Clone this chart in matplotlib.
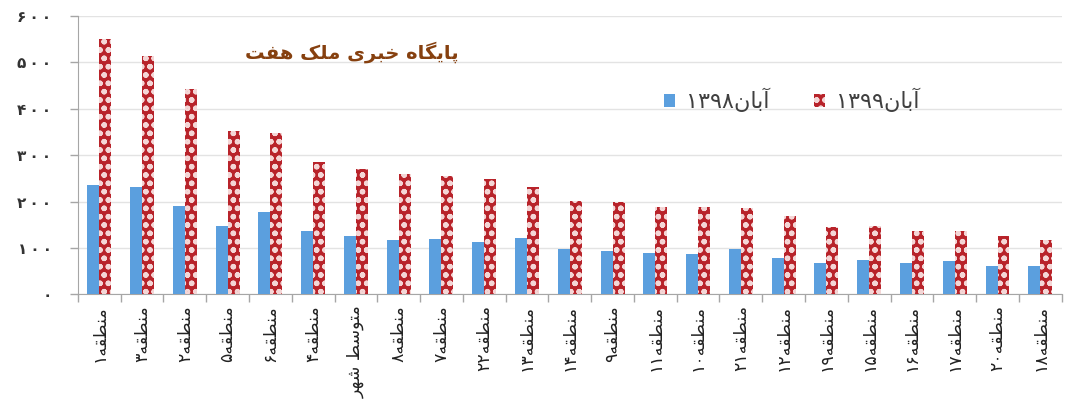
import numpy as np
import matplotlib
matplotlib.use("Agg")
import matplotlib.pyplot as plt

# data
regions = ["منطقه۱", "منطقه۳", "منطقه۲", "منطقه۵", "منطقه۶", "منطقه۴", "متوسط شهر",
           "منطقه۸", "منطقه۷", "منطقه۲۲", "منطقه۱۳", "منطقه۱۴", "منطقه۹", "منطقه۱۱",
           "منطقه۱۰", "منطقه۲۱", "منطقه۱۲", "منطقه۱۹", "منطقه۱۵", "منطقه۱۶", "منطقه۱۷",
           "منطقه۲۰", "منطقه۱۸"]
aban_1398 = [236, 231, 191, 148, 177, 137, 125, 118, 120, 113, 122, 98, 94, 89,
             87, 98, 79, 67, 73, 67, 71, 61, 60]
aban_1399 = [550, 513, 442, 353, 348, 285, 271, 259, 255, 248, 231, 201, 199, 188,
             188, 186, 168, 146, 147, 137, 137, 126, 117]
yticks = [0, 100, 200, 300, 400, 500, 600]
label_1398 = "آبان۱۳۹۸"
label_1399 = "آبان۱۳۹۹"
title = "پایگاه خبری ملک هفت"

# matplotlib has no arabic shaping, so do a small one by hand
# (isolated, final, initial, medial); two entries = right joining only
FORMS = {
    "ا": ("\uFE8D", "\uFE8E"), "آ": ("\uFE81", "\uFE82"),
    "ر": ("\uFEAD", "\uFEAE"), "و": ("\uFEED", "\uFEEE"),
    "ب": ("\uFE8F", "\uFE90", "\uFE91", "\uFE92"),
    "پ": ("\uFB56", "\uFB57", "\uFB58", "\uFB59"),
    "ت": ("\uFE95", "\uFE96", "\uFE97", "\uFE98"),
    "خ": ("\uFEA5", "\uFEA6", "\uFEA7", "\uFEA8"),
    "س": ("\uFEB1", "\uFEB2", "\uFEB3", "\uFEB4"),
    "ش": ("\uFEB5", "\uFEB6", "\uFEB7", "\uFEB8"),
    "ط": ("\uFEC1", "\uFEC2", "\uFEC3", "\uFEC4"),
    "ف": ("\uFED1", "\uFED2", "\uFED3", "\uFED4"),
    "ق": ("\uFED5", "\uFED6", "\uFED7", "\uFED8"),
    "ک": ("\uFB8E", "\uFB8F", "\uFB90", "\uFB91"),
    "گ": ("\uFB92", "\uFB93", "\uFB94", "\uFB95"),
    "ل": ("\uFEDD", "\uFEDE", "\uFEDF", "\uFEE0"),
    "م": ("\uFEE1", "\uFEE2", "\uFEE3", "\uFEE4"),
    "ن": ("\uFEE5", "\uFEE6", "\uFEE7", "\uFEE8"),
    "ه": ("\uFEE9", "\uFEEA", "\uFEEB", "\uFEEC"),
    "ی": ("\uFBFC", "\uFBFD", "\uFBFE", "\uFBFF"),
}
DIGITS = "۰۱۲۳۴۵۶۷۸۹0123456789"


def fa(text):
    out = []
    for i, c in enumerate(text):
        if c not in FORMS:
            out.append(c)
            continue
        prev = text[i - 1] if i > 0 else ""
        nxt = text[i + 1] if i + 1 < len(text) else ""
        join_prev = prev in FORMS and len(FORMS[prev]) == 4
        join_next = len(FORMS[c]) == 4 and nxt in FORMS
        f = FORMS[c]
        if join_prev and join_next:
            out.append(f[3])
        elif join_prev:
            out.append(f[1])
        elif join_next:
            out.append(f[2])
        else:
            out.append(f[0])
    # visual order: reverse runs, keep digit runs left to right
    runs = []
    for ch in out:
        isd = ch in DIGITS
        if runs and runs[-1][0] == isd:
            runs[-1][1].append(ch)
        else:
            runs.append([isd, [ch]])
    vis = ""
    for isd, chars in reversed(runs):
        vis += "".join(chars) if isd else "".join(reversed(chars))
    return vis


def fa_num(v):
    return "\u2009".join("۰۱۲۳۴۵۶۷۸۹"[int(d)] for d in str(v))


plt.rcParams["font.family"] = ["DejaVu Sans"]

fig = plt.figure(figsize=(10.67, 4.03), dpi=100)
ax = fig.add_axes([0.073, 0.27, 0.922, 0.69])

x = np.arange(len(regions))
w = 0.28
ax.bar(x - w / 2, aban_1398, w, color="#5B9FDE", label=fa(label_1398), zorder=3)
plt.rcParams["hatch.linewidth"] = 1.6
ax.bar(x + w / 2, aban_1399, w, color="#B8232A", edgecolor="#F4D6D6", linewidth=0,
       hatch="oo", label=fa(label_1399), zorder=3)

ax.set_xlim(-0.5, len(regions) - 0.5)
ax.set_ylim(0, 600)
ax.set_yticks(yticks)
ax.set_yticklabels([fa_num(v) for v in yticks], fontsize=11, fontweight="bold", color="#333333")
ax.tick_params(axis="y", length=6, pad=13, color="#A6A6A6", width=1)

ax.set_xticks(x)
ax.set_xticklabels([fa(r) for r in regions], rotation=90, fontsize=12.5, color="#222222")
ax.set_xticks(np.arange(len(regions) + 1) - 0.5, minor=True)
ax.tick_params(axis="x", which="major", length=0, pad=8)
ax.tick_params(axis="x", which="minor", length=6, color="#A6A6A6", width=1)

ax.grid(axis="y", color="#E3E3E3", linewidth=1, zorder=0)
for s in ["top", "right"]:
    ax.spines[s].set_visible(False)
ax.spines["left"].set_color("#A6A6A6")
ax.spines["bottom"].set_color("#A6A6A6")

fig.text(0.33, 0.871, fa(title), fontsize=14, fontweight="bold", color="#86400F",
         ha="center", va="center")

leg = fig.legend(loc="center", bbox_to_anchor=(0.742, 0.752), ncol=2, frameon=False,
                 handlelength=0.5, handleheight=0.5, columnspacing=2.0,
                 handletextpad=0.5, prop={"size": 16})
for t in leg.get_texts():
    t.set_color("#404040")

fig.savefig("out.png", dpi=100)
